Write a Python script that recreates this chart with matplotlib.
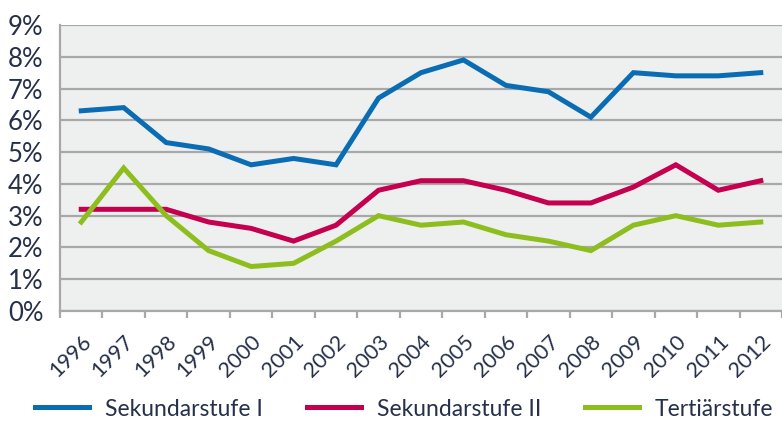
"""Arbeitslosenquote nach Bildungsstufe, 1996-2012."""

import matplotlib.pyplot as plt
import numpy as np
from matplotlib.ticker import FuncFormatter

years = [str(y) for y in range(1996, 2013)]
sek_1 = [6.3, 6.4, 5.3, 5.1, 4.6, 4.8, 4.6, 6.7, 7.5, 7.9, 7.1, 6.9, 6.1, 7.5, 7.4, 7.4, 7.5]
sek_2 = [3.2, 3.2, 3.2, 2.8, 2.6, 2.2, 2.7, 3.8, 4.1, 4.1, 3.8, 3.4, 3.4, 3.9, 4.6, 3.8, 4.1]
tertiaer = [2.8, 4.5, 3.0, 1.9, 1.4, 1.5, 2.2, 3.0, 2.7, 2.8, 2.4, 2.2, 1.9, 2.7, 3.0, 2.7, 2.8]
labels = ["Sekundarstufe I", "Sekundarstufe II", "Tertiärstufe"]
colors = ["#0A6DB4", "#C4004F", "#8DBE1E"]

plt.rcParams["font.family"] = ["Lato", "DejaVu Sans"]
text_color = "#26304a"
grid_color = "#a8a8a8"

fig = plt.figure(figsize=(7.82, 4.21), dpi=100)
ax = fig.add_axes([60 / 782, 1 - 311 / 421, 722 / 782, 286 / 421])
ax.set_facecolor("#eef0f0")

x = np.arange(len(years))
for values, label, color in zip([sek_1, sek_2, tertiaer], labels, colors):
    ax.plot(x, values, color=color, linewidth=3.6, label=label, solid_joinstyle="miter")

ax.set_xlim(-0.5, 16.31)
ax.set_ylim(0, 9)
ax.set_yticks(np.arange(0, 10))
ax.yaxis.set_major_formatter(FuncFormatter(lambda v, _: f"{int(v)}%"))
ax.yaxis.grid(True, color=grid_color, linewidth=1.6)
ax.set_axisbelow(True)

ax.set_xticks(x)
ax.set_xticklabels(years, rotation=45, ha="right", va="top", rotation_mode="anchor")
ax.set_xticks(np.arange(-0.5, 17, 1.0), minor=True)
ax.tick_params(axis="x", which="major", length=0, pad=15, labelsize=15.5, colors=text_color)
ax.tick_params(axis="x", which="minor", length=5, width=1.6, color=grid_color)
ax.tick_params(axis="y", length=0, pad=12, labelsize=18.5, colors=text_color)

for side in ("top", "right"):
    ax.spines[side].set_visible(False)
for side in ("left", "bottom"):
    ax.spines[side].set_color(grid_color)
    ax.spines[side].set_linewidth(1.6)

fig.legend(
    loc="center",
    bbox_to_anchor=(0.517, 1 - 409 / 421),
    ncol=3,
    frameon=False,
    fontsize=16.5,
    handlelength=2.36,
    handletextpad=0.7,
    columnspacing=1.9,
    labelcolor=text_color,
)

fig.savefig("out.png", dpi=100)
